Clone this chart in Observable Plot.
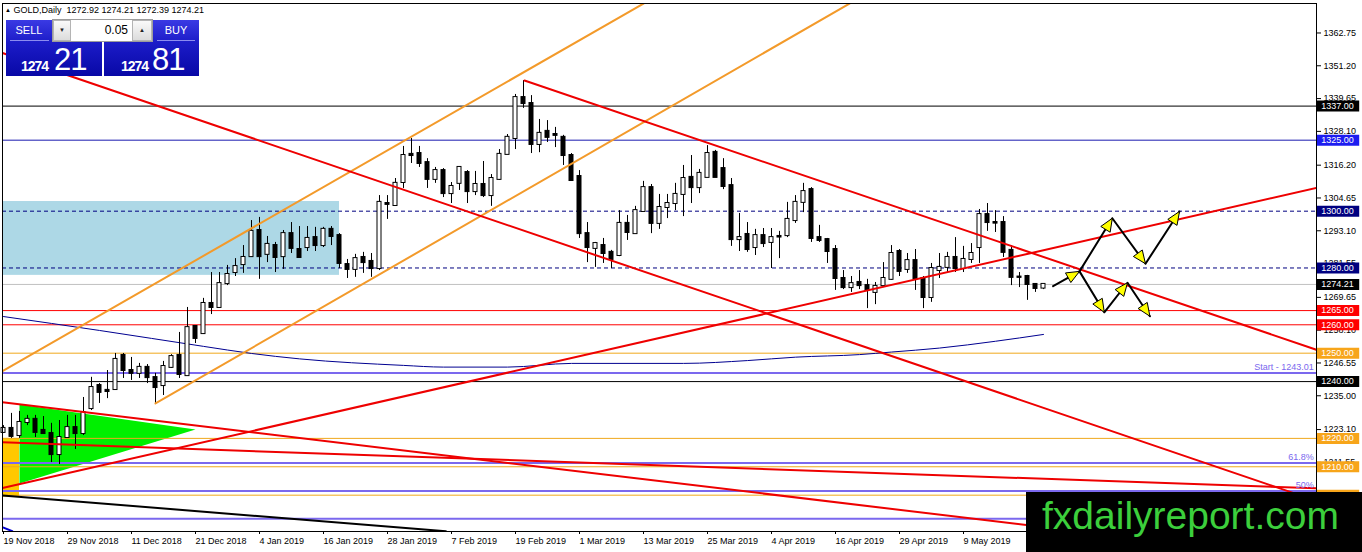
<!DOCTYPE html>
<html>
<head>
<meta charset="utf-8">
<script src="https://cdn.jsdelivr.net/npm/d3@7"></script>
<script src="https://cdn.jsdelivr.net/npm/@observablehq/plot@0.6"></script>
<style>
html, body { margin:0; padding:0; background:#fff; }
#wrap { position:relative; width:1362px; height:552px; overflow:hidden; font-family:"Liberation Sans", Arial, sans-serif; }
#wrap svg { position:absolute; left:0; top:0; }
.hdr { position:absolute; left:5px; top:4px; font-size:9px; line-height:12px; color:#000; white-space:pre; }
.hdr .tri { font-size:6px; position:relative; top:-1px; }
.bt { position:absolute; background:linear-gradient(to bottom,#3a3ae4,#1c1cc8); }
.bb { position:absolute; background:linear-gradient(to bottom,#1c1cc8,#0808a6); }
.sep { position:absolute; height:1px; background:#8c8cf0; }
.lbl { position:absolute; color:#fff; white-space:nowrap; }
.ctrl { position:absolute; left:52px; top:19px; width:101px; height:23px; background:#fff; border:1px solid #9c9c9c; box-sizing:border-box; }
.btn { position:absolute; top:20px; height:21px; background:linear-gradient(to bottom,#fafafa,#dcdcdc); border:1px solid #b4b4b4; box-sizing:border-box; font-size:6px; line-height:19px; text-align:center; color:#222; }
.logo { position:absolute; left:1026px; top:492px; width:336px; height:60px; background:#000; }
.logo span { position:absolute; left:16px; top:4px; font-size:39px; line-height:40px; color:#3ccf3c; white-space:nowrap; }
</style>
</head>
<body>
<div id="wrap"></div>
<script>
// ---------------- DATA ----------------
const dateTickIdx = [0, 8, 16, 24, 32, 40, 48, 56, 64, 72, 80, 88, 96, 104, 112, 120];
const dateLabels = ["19 Nov 2018", "29 Nov 2018", "11 Dec 2018", "21 Dec 2018", "4 Jan 2019", "16 Jan 2019",
  "28 Jan 2019", "7 Feb 2019", "19 Feb 2019", "1 Mar 2019", "13 Mar 2019", "25 Mar 2019", "4 Apr 2019",
  "16 Apr 2019", "29 Apr 2019", "9 May 2019"];
const priceTicks = [1362.75, 1351.20, 1339.65, 1328.10, 1316.20, 1304.65, 1293.10, 1281.55, 1269.65,
  1258.10, 1246.55, 1235.00, 1223.10, 1211.55, 1200.00];

const opens = [1222.1,1223.5,1221.0,1225.6,1226.7,1222.8,1221.7,1214.3,1220.3,1223.8,
  1221.7,1230.5,1238.6,1236.9,1237.2,1249.2,1243.9,1242.9,1245.0,1241.4,
  1238.6,1245.0,1249.2,1242.1,1259.4,1256.9,1267.5,1266.1,1274.5,1278.4,
  1281.2,1284.0,1293.2,1284.8,1287.9,1284.0,1292.1,1286.5,1287.2,1290.7,
  1287.9,1293.6,1291.4,1281.2,1279.5,1283.7,1282.3,1279.8,1302.7,1302.0,
  1310.1,1320.0,1320.3,1317.1,1311.2,1314.3,1306.2,1309.8,1313.6,1306.9,
  1309.4,1305.5,1311.2,1320.0,1325.6,1340.0,1337.9,1323.5,1328.1,1327.0,
  1326.0,1319.6,1312.2,1292.1,1286.9,1287.9,1285.5,1284.4,1295.7,1292.1,
  1299.9,1308.3,1295.7,1301.3,1302.7,1305.9,1311.9,1308.3,1311.9,1320.7,
  1315.0,1309.0,1290.0,1291.8,1287.2,1291.4,1289.0,1291.1,1291.4,1296.7,
  1303.1,1307.6,1290.7,1290.0,1286.5,1276.3,1273.1,1274.9,1273.8,1271.4,
  1273.8,1276.0,1285.8,1279.5,1282.6,1276.3,1269.6,1279.1,1280.2,1283.7,
  1279.8,1283.0,1287.2,1298.8,1296.0,1296.0,1286.2,1276.8,1277.0,1274.2,
  1272.92];
const highs = [1224.5,1228.8,1229.5,1228.1,1228.1,1227.7,1225.3,1226.3,1228.1,1228.1,
  1234.4,1241.5,1239.3,1243.9,1249.9,1249.9,1248.5,1246.4,1246.0,1242.9,
  1247.1,1249.5,1257.3,1266.1,1259.4,1269.3,1278.4,1278.4,1280.9,1283.3,
  1287.9,1296.7,1297.8,1291.1,1289.0,1293.2,1296.0,1294.6,1294.6,1294.3,
  1294.3,1294.6,1292.1,1283.0,1284.8,1285.5,1285.1,1305.5,1305.5,1311.5,
  1322.8,1325.6,1322.8,1318.5,1315.4,1315.0,1310.1,1315.7,1314.3,1314.0,
  1317.5,1312.9,1321.7,1327.0,1341.1,1346.0,1340.7,1332.3,1331.9,1329.5,
  1326.7,1320.3,1314.3,1296.0,1289.0,1290.4,1286.2,1300.2,1298.5,1301.7,
  1310.5,1309.4,1305.9,1305.9,1309.8,1316.1,1319.6,1314.7,1323.1,1321.4,
  1318.5,1311.5,1299.2,1296.0,1293.6,1293.9,1293.9,1292.9,1303.1,1305.5,
  1309.8,1308.3,1295.0,1290.4,1287.9,1279.1,1277.0,1279.1,1276.0,1274.9,
  1281.9,1287.9,1286.5,1285.1,1286.5,1277.0,1281.6,1285.1,1285.5,1290.7,
  1287.6,1288.6,1300.6,1302.7,1300.2,1298.1,1287.9,1278.4,1277.4,1274.5,
  1274.21];
const lows = [1221.7,1220.0,1220.0,1224.5,1220.3,1221.4,1211.5,1210.8,1220.3,1216.1,
  1221.0,1229.8,1232.3,1234.0,1236.9,1241.1,1240.4,1241.1,1239.3,1232.3,
  1235.1,1244.6,1241.1,1242.1,1253.4,1256.6,1263.6,1266.1,1273.8,1277.0,
  1278.1,1283.7,1276.0,1281.9,1278.4,1279.5,1285.1,1283.7,1285.8,1285.8,
  1287.2,1287.9,1279.8,1276.3,1276.7,1278.1,1276.7,1279.1,1297.1,1301.7,
  1308.0,1316.8,1315.4,1308.0,1309.8,1304.8,1302.7,1307.3,1302.7,1305.5,
  1304.8,1301.7,1310.8,1320.0,1321.7,1336.2,1320.3,1320.6,1324.2,1322.4,
  1316.1,1310.5,1290.4,1281.9,1280.2,1281.6,1279.8,1284.0,1289.7,1292.1,
  1299.9,1292.1,1293.6,1297.4,1300.2,1298.1,1302.7,1306.2,1311.9,1311.9,
  1307.6,1287.6,1285.8,1285.5,1284.4,1287.2,1279.8,1283.3,1290.7,1295.7,
  1299.5,1289.0,1289.0,1281.6,1272.1,1272.4,1271.4,1272.4,1265.7,1267.1,
  1273.1,1275.6,1277.0,1278.1,1272.1,1265.7,1267.9,1276.3,1278.4,1278.4,
  1278.4,1281.6,1281.6,1292.9,1292.5,1283.7,1273.8,1273.1,1268.6,1271.4,
  1272.39];
const closes = [1223.5,1220.7,1225.6,1226.7,1222.1,1221.7,1214.3,1220.3,1223.8,1221.7,
  1229.1,1237.9,1236.2,1236.5,1247.8,1243.9,1242.9,1245.0,1241.4,1237.9,
  1245.3,1248.8,1242.5,1259.0,1255.2,1267.5,1266.1,1274.5,1277.7,1280.5,
  1283.7,1292.9,1284.0,1288.3,1283.7,1292.1,1286.9,1283.7,1290.4,1287.9,
  1293.6,1291.1,1281.6,1279.5,1283.3,1281.9,1279.8,1303.1,1302.4,1309.8,
  1319.6,1319.6,1316.8,1311.2,1314.3,1306.2,1308.7,1315.4,1306.9,1309.4,
  1305.5,1311.5,1320.0,1326.0,1340.0,1337.9,1323.5,1327.4,1326.0,1326.7,
  1319.6,1310.8,1292.1,1287.2,1288.6,1285.1,1283.0,1295.7,1292.5,1300.2,
  1308.3,1295.7,1301.3,1302.7,1305.9,1311.5,1308.3,1313.3,1320.3,1311.9,
  1308.7,1290.0,1290.7,1286.5,1291.4,1288.6,1290.7,1290.9,1297.1,1303.1,
  1306.9,1290.4,1289.7,1285.8,1276.3,1273.1,1274.5,1273.8,1272.1,1273.5,
  1276.3,1285.1,1278.8,1282.6,1276.3,1269.6,1279.8,1280.2,1283.7,1279.8,
  1283.0,1285.1,1298.8,1296.0,1295.8,1285.5,1276.7,1276.7,1274.2,1272.8,
  1274.21];

// moving average (read at selected bars)
const maIdx = [0, 12, 25, 31, 37, 50, 55, 63, 71, 85, 93, 99, 107, 111, 117, 124, 130];
const maVal = [1262.9, 1258.0, 1252.4, 1249.9, 1248.0, 1245.7, 1245.1, 1245.1, 1246.4, 1246.4,
  1247.4, 1248.6, 1249.5, 1250.4, 1251.8, 1254.2, 1256.6];
const ma2 = [{i: 0, p: 1188.6}, {i: 1.1, p: 1187.3}];

// horizontal price levels with right-hand boxes
const levelValues = [1337, 1325, 1300, 1280, 1274.21, 1265, 1260, 1250, 1240, 1220, 1210, 1200];
// fibonacci levels
const fibValues = [1243.01, 1211.3, 1201.5, 1191.7];
const fibLabels = ["Start - 1243.01", "61.8%", "50%", ""];

// zones
const blueZone = [{i1: -0.125, i2: 42, p1: 1277.4, p2: 1303.4}];
const yellowZone = [{i1: -0.125, i2: 2, p1: 1199.3, p2: 1220.0}];
const greenTriangle = [{i: 2, p: 1231.9}, {i: 24, p: 1223.1}, {i: 2, p: 1204.1}];

// trend lines (endpoints)
const redTrend = [
  {k: "A", i: -0.125, p: 1355.7}, {k: "A", i: 164.125, p: 1198.0},
  {k: "B", i: 65.125, p: 1346.0}, {k: "B", i: 164.125, p: 1251.2},
  {k: "C", i: -0.125, p: 1202.5}, {k: "C", i: 164.125, p: 1308.2},
  {k: "D", i: -0.125, p: 1232.7}, {k: "D", i: 134.3, p: 1187.3},
  {k: "E", i: -0.125, p: 1218.6}, {k: "E", i: 164.125, p: 1202.4}
];
const orangeChannel = [
  {k: "U", i: -0.125, p: 1243.7}, {k: "U", i: 80.0, p: 1373.1},
  {k: "L", i: 19, p: 1232.3}, {k: "L", i: 105.75, p: 1373.1}
];
const blackTrend = [{i: -0.125, p: 1199.9}, {i: 55.3, p: 1187.3}];

// projected scenarios
const scenarioUp = [{i: 131.2, p: 1273.6}, {i: 134.5, p: 1278.8}, {i: 138.6, p: 1297.5},
  {i: 142.75, p: 1281.5}, {i: 147.0, p: 1299.9}];
const scenarioDown = [{i: 134.5, p: 1278.8}, {i: 137.6, p: 1264.4}, {i: 140.5, p: 1274.8},
  {i: 143.3, p: 1263.0}];

// ---------------- STYLES / LAYOUT ----------------
const W = 1362, H = 552, ML = 2, MR = 46, MT = 3, MB = 21;
const X_DOMAIN = [-0.125, 164.125];
const Y_DOMAIN = [1187.21, 1373.13];
const ORANGE = "#f0a81c";
const levelLine = ["#000000", "#1a1ab0", "#000080", "#000080", "#c0c0c0", "#ff0000", "#ff0000",
  ORANGE, "#000000", ORANGE, ORANGE, ORANGE];
const levelBox = ["#000000", "#1c1cf0", "#000080", "#000080", "#000000", "#ff0000", "#ff0000",
  "#f7a51a", "#000000", "#f7a51a", "#f7a51a", "#f7a51a"];
const levelDashed = [false, false, true, true, false, false, false, false, false, false, false, false];

// ---------------- BUILD ----------------
const candles = opens.map((o, i) => ({i, o, h: highs[i], l: lows[i], c: closes[i]}));
const ma = maIdx.map((i, k) => ({i, p: maVal[k]}));
const levels = levelValues.map((v, k) => ({v, line: levelLine[k], box: levelBox[k], dashed: levelDashed[k]}));
const fibs = fibValues.map((v, k) => ({v, label: fibLabels[k]}));

const xS = Plot.scale({x: {domain: X_DOMAIN, range: [ML, W - MR]}});
const yS = Plot.scale({y: {domain: Y_DOMAIN, range: [H - MB, MT]}});

function arrowHeads(path, tag) {
  const out = [];
  const L = 13, HW = 5.5;
  for (let k = 1; k < path.length; k++) {
    const ax = xS.apply(path[k - 1].i), ay = yS.apply(path[k - 1].p);
    const bx = xS.apply(path[k].i), by = yS.apply(path[k].p);
    const len = Math.hypot(bx - ax, by - ay);
    const ux = (bx - ax) / len, uy = (by - ay) / len;
    const cx = bx - L * ux, cy = by - L * uy;
    const pts = [[bx, by], [cx - HW * uy, cy + HW * ux], [cx + HW * uy, cy - HW * ux], [bx, by]];
    pts.forEach(([px, py]) => out.push({k: tag + k, i: xS.invert(px), p: yS.invert(py)}));
  }
  return out;
}
const heads = arrowHeads(scenarioUp, "u").concat(arrowHeads(scenarioDown, "d"));

const XR = X_DOMAIN[1];

const svg = Plot.plot({
  width: W, height: H,
  marginLeft: ML, marginRight: MR, marginTop: MT, marginBottom: MB,
  style: {fontFamily: "Liberation Sans, Arial, sans-serif", fontSize: "9px", background: "white", color: "black"},
  x: {domain: X_DOMAIN, ticks: dateTickIdx, tickFormat: d => dateLabels[dateTickIdx.indexOf(d)], tickSize: 3, tickPadding: 3, label: null},
  y: {domain: Y_DOMAIN, axis: "right", ticks: priceTicks, tickFormat: d => d.toFixed(2), tickSize: 4, tickPadding: 3, label: null},
  marks: [
    Plot.rect(blueZone, {x1: "i1", x2: "i2", y1: "p1", y2: "p2", fill: "#add8e6"}),
    Plot.rect(yellowZone, {x1: "i1", x2: "i2", y1: "p1", y2: "p2", fill: "#ffc800"}),
    Plot.line(greenTriangle, {x: "i", y: "p", fill: "#00f000", stroke: "none"}),
    Plot.ruleY(levels.filter(d => !d.dashed), {y: "v", stroke: "line", strokeWidth: 1}),
    Plot.ruleY(levels.filter(d => d.dashed), {y: "v", stroke: "line", strokeWidth: 1, strokeDasharray: "4,3"}),
    Plot.ruleY(fibs, {y: "v", stroke: "#7b68ee", strokeWidth: 2}),
    Plot.line(ma, {x: "i", y: "p", stroke: "#000090", strokeWidth: 1, curve: "monotone-x"}),
    Plot.line(ma2, {x: "i", y: "p", stroke: "#0000d0", strokeWidth: 2, clip: true}),
    Plot.ruleX(candles, {x: "i", y1: "l", y2: "h", stroke: "black", strokeWidth: 1}),
    Plot.rect(candles, {
      x1: d => d.i - 0.25, x2: d => d.i + 0.25,
      y1: d => Math.min(d.o, d.c), y2: d => Math.max(d.o, d.c),
      fill: d => d.c >= d.o ? "white" : "black", stroke: "black", strokeWidth: 1,
      insetTop: -0.5, insetBottom: -0.5
    }),
    Plot.line(orangeChannel, {x: "i", y: "p", z: "k", stroke: "#f39a2a", strokeWidth: 2, clip: true}),
    Plot.line(redTrend, {x: "i", y: "p", z: "k", stroke: "#ee0000", strokeWidth: 2, clip: true}),
    Plot.line(blackTrend, {x: "i", y: "p", stroke: "black", strokeWidth: 2, clip: true}),
    Plot.line(scenarioUp, {x: "i", y: "p", stroke: "black", strokeWidth: 2}),
    Plot.line(scenarioDown, {x: "i", y: "p", stroke: "black", strokeWidth: 2}),
    Plot.line(heads, {x: "i", y: "p", z: "k", fill: "#ffff00", stroke: "black", strokeWidth: 1}),
    Plot.text(fibs, {x: XR - 0.35, y: "v", text: "label", textAnchor: "end", dy: -6, fill: "#7b68ee", fontSize: 9}),
    Plot.frame({stroke: "black"}),
    Plot.ruleY(levels, {y: "v", x1: XR + 0.12, x2: XR + 5.4, stroke: "box", strokeWidth: 11}),
    Plot.text(levels, {x: XR + 0.6, y: "v", text: d => d.v.toFixed(2), textAnchor: "start", fill: "white", fontSize: 9})
  ]
});

svg.querySelectorAll('[aria-label^="x-axis"]').forEach(g => {
  if (g.hasAttribute("text-anchor")) g.setAttribute("text-anchor", "start");
  g.querySelectorAll("text").forEach(t => t.setAttribute("text-anchor", "start"));
});

const wrap = document.getElementById("wrap");
wrap.appendChild(svg);

// overlays: header, trade panel, logo
wrap.insertAdjacentHTML("beforeend", `
<div class="hdr"><span class="tri">▲</span> GOLD,Daily  1272.92 1274.21 1272.39 1274.21</div>
<div class="bt" style="left:6px;top:20px;width:46px;height:22px"></div>
<div class="bb" style="left:6px;top:42px;width:96px;height:34px"></div>
<div class="bt" style="left:153px;top:20px;width:46px;height:22px"></div>
<div class="bb" style="left:104px;top:42px;width:95px;height:34px"></div>
<div class="sep" style="left:10px;top:40px;width:39px"></div>
<div class="sep" style="left:157px;top:40px;width:38px"></div>
<div class="lbl" style="left:6px;top:20px;width:46px;text-align:center;font-size:11px;line-height:20px">SELL</div>
<div class="lbl" style="left:153px;top:20px;width:46px;text-align:center;font-size:11px;line-height:20px">BUY</div>
<div class="lbl" style="left:21px;top:59px;font-size:14px;line-height:14px;font-weight:bold;letter-spacing:-1px">1274</div>
<div class="lbl" style="left:54px;top:44px;font-size:31px;line-height:31px;letter-spacing:-1px">21</div>
<div class="lbl" style="left:121px;top:59px;font-size:14px;line-height:14px;font-weight:bold;letter-spacing:-1px">1274</div>
<div class="lbl" style="left:152px;top:44px;font-size:31px;line-height:31px;letter-spacing:-1px">81</div>
<div class="ctrl"></div>
<div class="btn" style="left:53px;width:18px">▼</div>
<div class="btn" style="left:132px;width:20px">▲</div>
<div style="position:absolute;left:74px;top:23px;width:54px;text-align:right;font-size:12px;line-height:14px;color:#000">0.05</div>
<div class="logo"><span>fxdailyreport.com</span></div>
`);
</script>
</body>
</html>
